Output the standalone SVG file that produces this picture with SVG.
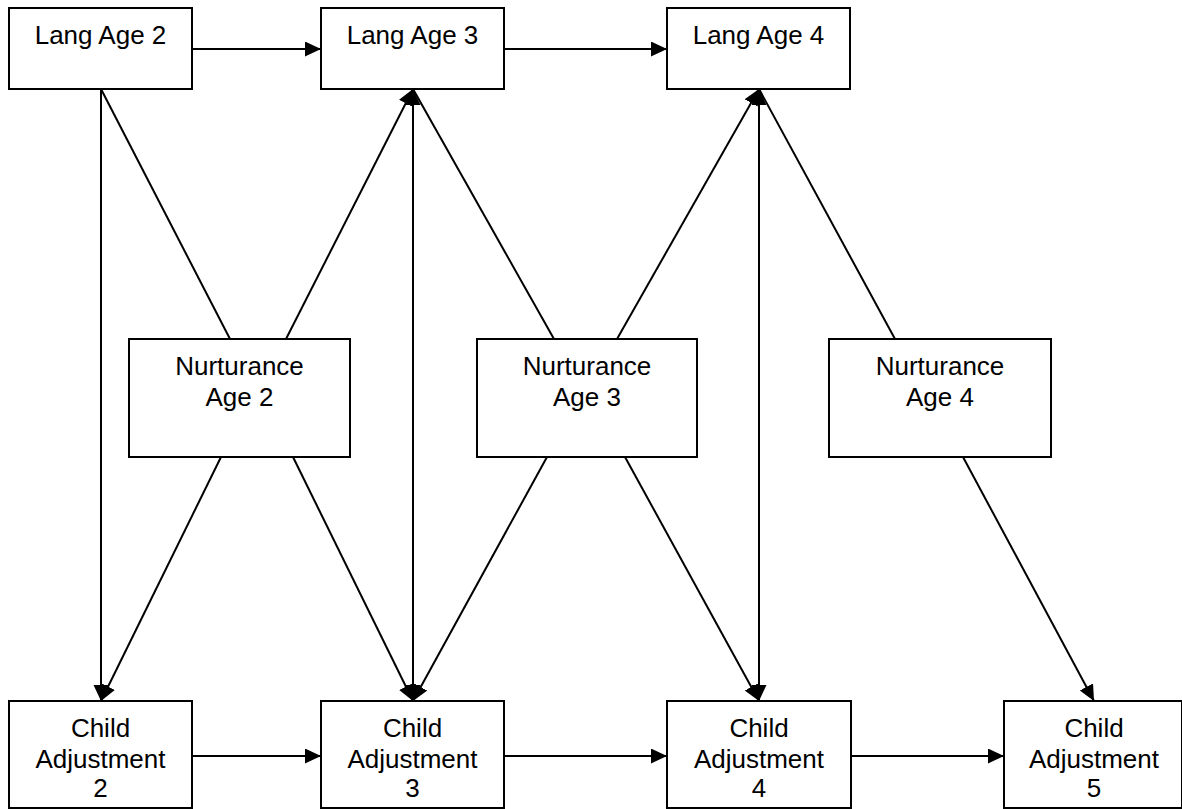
<svg xmlns="http://www.w3.org/2000/svg" width="1182" height="809" viewBox="0 0 1182 809">
  <style>
    .box { fill: #ffffff; stroke: #000000; stroke-width: 2; }
    .lbl { font-family: "Liberation Sans", Arial, sans-serif; font-size: 26px; fill: #000000; text-anchor: middle; }
    .edge { fill: none; stroke: #000000; stroke-width: 2; }
    .arr { marker-end: url(#head); }
    .both { marker-start: url(#head); marker-end: url(#head); }
  </style>
  <defs>
    <marker id="head" markerUnits="userSpaceOnUse" markerWidth="18" markerHeight="16" refX="16" refY="7.5" orient="auto-start-reverse">
      <path d="M0,0 L16,7.5 L0,15 z" fill="#000000"/>
    </marker>
  </defs>

  <!-- connectors -->
  <g id="connectors">
    <!-- language chain -->
    <line class="edge arr" x1="192" y1="49" x2="321" y2="49"/>
    <line class="edge arr" x1="504" y1="49" x2="667" y2="49"/>
    <!-- adjustment chain -->
    <line class="edge arr" x1="192" y1="756" x2="321" y2="756"/>
    <line class="edge arr" x1="504" y1="756" x2="667" y2="756"/>
    <line class="edge arr" x1="851" y1="756" x2="1004" y2="756"/>
    <!-- language to adjustment -->
    <line class="edge arr" x1="101" y1="89" x2="101" y2="701"/>
    <line class="edge both" x1="413" y1="89" x2="413" y2="701"/>
    <line class="edge both" x1="759" y1="89" x2="759" y2="701"/>
    <!-- language to nurturance -->
    <line class="edge" x1="101" y1="89" x2="230" y2="339"/>
    <line class="edge" x1="413" y1="89" x2="554" y2="339"/>
    <line class="edge" x1="759" y1="89" x2="895" y2="339"/>
    <!-- nurturance to next language -->
    <line class="edge arr" x1="286" y1="339" x2="413" y2="89"/>
    <line class="edge arr" x1="617" y1="339" x2="759" y2="89"/>
    <!-- nurturance to adjustment -->
    <line class="edge arr" x1="221" y1="457" x2="101" y2="701"/>
    <line class="edge arr" x1="293" y1="457" x2="413" y2="701"/>
    <line class="edge arr" x1="547" y1="457" x2="413" y2="701"/>
    <line class="edge arr" x1="625" y1="457" x2="759" y2="701"/>
    <line class="edge arr" x1="963" y1="457" x2="1094" y2="701"/>
  </g>

  <!-- language nodes -->
  <g id="lang2">
    <rect class="box" x="9" y="8" width="183" height="81"/>
    <text class="lbl" x="100.5" y="44">Lang Age 2</text>
  </g>
  <g id="lang3">
    <rect class="box" x="321" y="8" width="183" height="81"/>
    <text class="lbl" x="412.5" y="44">Lang Age 3</text>
  </g>
  <g id="lang4">
    <rect class="box" x="667" y="8" width="183" height="81"/>
    <text class="lbl" x="758.5" y="44">Lang Age 4</text>
  </g>

  <!-- nurturance nodes -->
  <g id="nurt2">
    <rect class="box" x="129" y="339" width="221" height="118"/>
    <text class="lbl" x="239.5" y="375">Nurturance</text>
    <text class="lbl" x="239.5" y="406">Age 2</text>
  </g>
  <g id="nurt3">
    <rect class="box" x="477" y="339" width="220" height="118"/>
    <text class="lbl" x="587" y="375">Nurturance</text>
    <text class="lbl" x="587" y="406">Age 3</text>
  </g>
  <g id="nurt4">
    <rect class="box" x="829" y="339" width="222" height="118"/>
    <text class="lbl" x="940" y="375">Nurturance</text>
    <text class="lbl" x="940" y="406">Age 4</text>
  </g>

  <!-- adjustment nodes -->
  <g id="adj2">
    <rect class="box" x="9" y="701" width="183" height="107"/>
    <text class="lbl" x="100.5" y="737">Child</text>
    <text class="lbl" x="100.5" y="768">Adjustment</text>
    <text class="lbl" x="100.5" y="797">2</text>
  </g>
  <g id="adj3">
    <rect class="box" x="321" y="701" width="183" height="107"/>
    <text class="lbl" x="412.5" y="737">Child</text>
    <text class="lbl" x="412.5" y="768">Adjustment</text>
    <text class="lbl" x="412.5" y="797">3</text>
  </g>
  <g id="adj4">
    <rect class="box" x="667" y="701" width="184" height="107"/>
    <text class="lbl" x="759" y="737">Child</text>
    <text class="lbl" x="759" y="768">Adjustment</text>
    <text class="lbl" x="759" y="797">4</text>
  </g>
  <g id="adj5">
    <rect class="box" x="1004" y="701" width="178" height="107"/>
    <text class="lbl" x="1094" y="737">Child</text>
    <text class="lbl" x="1094" y="768">Adjustment</text>
    <text class="lbl" x="1094" y="797">5</text>
  </g>
</svg>
